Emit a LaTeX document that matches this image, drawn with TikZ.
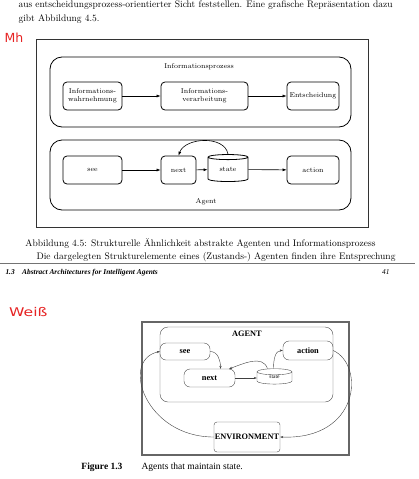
\documentclass[tikz,border=0pt]{standalone}
\usepackage{fontspec}
\usepackage{graphicx}
\usetikzlibrary{calc,shapes.geometric,arrows.meta}
\newfontfamily\markfont{DejaVu Sans}
\newfontfamily\bookfont{Liberation Serif}
\definecolor{markred}{RGB}{230,35,35}
\newcommand{\bodysize}{\fontsize{9.5}{11}\selectfont}
\newcommand{\boxsize}{\fontsize{7}{8}\selectfont}
\newcommand{\wsize}{\bookfont\bfseries\fontsize{8.3}{9}\selectfont}

\begin{document}
\begin{tikzpicture}[x=1pt,y=-1pt,
    mbox/.style={draw,line width=.8pt,rounded corners=4pt,minimum height=28pt,inner sep=1pt,align=center,font=\boxsize},
    mgroup/.style={draw,line width=.8pt,rounded corners=12pt,minimum width=301pt,minimum height=70pt},
    mtank/.style={draw,line width=.8pt,cylinder,shape border rotate=90,shape aspect=.3,inner sep=0pt,font=\boxsize},
    marr/.style={-{Latex[length=4pt,width=3pt]},line width=.6pt},
    wbox/.style={draw=black!70,line width=.4pt,rounded corners=6pt,inner sep=0pt,font=\wsize},
    warr/.style={-{Stealth[length=3pt,width=2.2pt]},draw=black!75,line width=.4pt}]
  \useasboundingbox (0,0) rectangle (418,479);

  \node[anchor=base west,font=\bodysize] (line1) at (15,7.5) {aus entscheidungsprozess-orientierter Sicht feststellen. Eine grafische Repr\"asentation dazu};
  \node[anchor=base west,font=\bodysize] (line2) at (15,21) {gibt Abbildung 4.5.};
  \node[anchor=west,inner sep=0pt,text=markred,font=\markfont\fontsize{12.5}{14}\selectfont] (mh) at (4.5,37.5) {Mh};

  \draw[line width=.9pt,draw=black!80] (36,39) rectangle (368,227);

  \node[mgroup] (ipgroup) at (200.5,92) {};
  \node[font=\boxsize] (iptitle) at (199,67) {Informationsprozess};
  \node[mbox,minimum width=59pt] (wahr) at (92.5,96) {Informations-\\wahrnehmung};
  \node[mbox,minimum width=87pt] (verarb) at (204.5,96) {Informations-\\verarbeitung};
  \node[mbox,minimum width=52pt] (entsch) at (313,96) {Entscheidung};
  \draw[marr] (wahr) -- (verarb);
  \draw[marr] (verarb) -- (entsch);

  \node[mgroup] (aggroup) at (200.5,175) {};
  \node[font=\boxsize] (agtitle) at (206,202) {Agent};
  \node[mbox,minimum width=59pt] (see) at (92.5,170) {see};
  \node[mbox,minimum width=35pt] (next) at (178.5,170) {next};
  \node[mtank,minimum width=40pt,minimum height=27pt] (state) at (228,169.5) {state};
  \node[mbox,minimum width=52pt] (action) at (313,170) {action};
  \draw[marr] (see) -- (next);
  \draw[marr] (next) -- (state);
  \draw[marr] (state) -- (action);
  \draw[marr] (state.north) to[out=100,in=70] (next.north);

  \node[anchor=base,font=\bodysize] (cap45) at (200.5,246) {Abbildung 4.5: Strukturelle \"Ahnlichkeit abstrakte Agenten und Informationsprozess};
  \node[anchor=base west,font=\bodysize] (line3) at (33,259) {Die dargelegten Strukturelemente eines (Zustands-) Agenten finden ihre Entsprechung};
  \draw[line width=1pt,draw=black!55] (0,263.5) -- (415,263.5);

  \node[anchor=base west,font=\bookfont\bfseries\itshape\fontsize{7.4}{9}\selectfont] (runhead) at (2,274) {1.3\quad Abstract Architectures for Intelligent Agents};
  \node[anchor=base east,font=\bookfont\itshape\fontsize{7.4}{9}\selectfont] (pageno) at (393,274) {41};
  \node[anchor=west,inner sep=0pt,text=markred,font=\markfont\fontsize{12}{14}\selectfont] (weiss) at (9,312) {\scalebox{1.3}[1]{Wei\ss}};

  \draw[line width=1.1pt,draw=black!60] (142,322) rectangle (349,455);

  \node[draw=black!70,line width=.4pt,rounded corners=8pt,minimum width=173pt,minimum height=75pt] (agentgroup) at (246.5,364.5) {};
  \node[font=\wsize] (agenttitle) at (247,334) {AGENT};
  \node[wbox,minimum width=50pt,minimum height=17pt] (wsee) at (185,351.5) {see};
  \node[wbox,minimum width=50pt,minimum height=19pt] (waction) at (308,350.5) {action};
  \node[wbox,minimum width=51pt,minimum height=18pt] (wnext) at (209.5,378) {next};
  \node[draw=black!70,line width=.4pt,cylinder,shape border rotate=90,shape aspect=.6,inner sep=0pt,minimum width=35pt,minimum height=14pt,font=\bookfont\fontsize{5.5}{6}\selectfont] (wstate) at (274.5,378) {\raisebox{3pt}{state}};
  \node[wbox,rounded corners=3pt,minimum width=66pt,minimum height=30pt] (wenv) at (247,437) {ENVIRONMENT};
  \draw[warr] (wsee.east) to[out=0,in=90] ($(wnext.north)+(11,0)$);
  \draw[warr] (wnext) -- (wstate);
  \draw[warr] ($(wstate.north)+(-7,0)$) to[out=110,in=20] ($(wnext.north east)+(-6,0)$);
  \draw[warr] ($(wstate.north)+(-1,0)$) to[out=90,in=180] (waction.west);
  \draw[warr] (wenv.west) .. controls (145,437) and (120,360) .. (wsee.west);
  \draw[warr] (waction.east) .. controls (365,365) and (360,440) .. (wenv.east);

  \node[anchor=base east,font=\bookfont\bfseries\fontsize{9.5}{11}\selectfont] (figno) at (126,469) {Figure 1.3};
  \node[anchor=base west,font=\bookfont\fontsize{9.5}{11}\selectfont] (cap13) at (138,469) {Agents that maintain state.};
\end{tikzpicture}
\end{document}
